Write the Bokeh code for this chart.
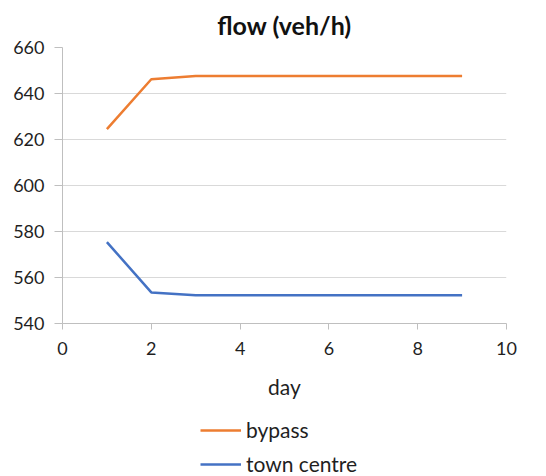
from bokeh.plotting import figure
from bokeh.layouts import column
from bokeh.models import Range1d, FixedTicker, Legend, LegendItem
from bokeh.embed import file_html
from bokeh.resources import INLINE

days = [1, 2, 3, 4, 5, 6, 7, 8, 9]
bypass = [624.5, 646.2, 647.6, 647.6, 647.6, 647.6, 647.6, 647.6, 647.6]
town_centre = [575.4, 553.5, 552.3, 552.3, 552.3, 552.3, 552.3, 552.3, 552.3]
series_names = ["bypass", "town centre"]
series_colors = ["#ED7D31", "#4472C4"]
x_ticks = [0, 2, 4, 6, 8, 10]
y_ticks = [540, 560, 580, 600, 620, 640, 660]

FONT = "Lato"
TXT = "#1f1f1f"

p = figure(output_backend="svg", toolbar_location=None,
           x_range=Range1d(0, 10), y_range=Range1d(540, 660),
           frame_width=444, frame_height=276,
           min_border_left=62, min_border_right=40, min_border_top=47,
           min_border_bottom=87)
p.title.text = "flow (veh/h)"
p.title.align = "center"
p.title.text_font = FONT
p.title.text_font_size = "25px"
p.title.text_font_style = "bold"
p.title.text_color = "#111111"
p.title.standoff = 15

p.outline_line_color = None
p.xgrid.grid_line_color = None
p.ygrid.grid_line_color = "#d9d9d9"
p.ygrid.grid_line_width = 1

for ax in (p.xaxis, p.yaxis):
    ax.axis_line_color = "#bfbfbf"
    ax.major_tick_line_color = "#bfbfbf"
    ax.minor_tick_line_color = None
    ax.major_tick_in = 0
    ax.major_label_text_font = FONT
    ax.major_label_text_font_size = "18px"
    ax.major_label_text_color = TXT
p.xaxis.major_tick_out = 6
p.yaxis.major_tick_out = 8
p.xaxis.ticker = FixedTicker(ticks=x_ticks)
p.yaxis.ticker = FixedTicker(ticks=y_ticks)
p.xaxis.axis_label = "day"
p.xaxis.axis_label_text_font = FONT
p.xaxis.axis_label_text_font_size = "21px"
p.xaxis.axis_label_text_font_style = "normal"
p.xaxis.axis_label_text_color = TXT
p.xaxis.axis_label_standoff = 16
p.xaxis.major_label_standoff = 12
p.yaxis.major_label_standoff = 10

series = [bypass, town_centre]
for ys, c in zip(series, series_colors):
    p.line(days, ys, line_color=c, line_width=2.5)

# legend strip under the chart: a small canvas whose range keeps the key
# lines out of view, so only the legend entries show
key = figure(width=546, height=66, output_backend="svg", toolbar_location=None,
             x_axis_type=None, y_axis_type=None,
             x_range=Range1d(0, 1), y_range=Range1d(0, 1),
             min_border=0, outline_line_color=None)
key.xgrid.visible = False
key.ygrid.visible = False
items = []
for name, ys, c in zip(series_names, series, series_colors):
    r = key.line(days, ys, line_color=c, line_width=2.5)
    items.append(LegendItem(label=name, renderers=[r]))
legend = Legend(items=items, orientation="vertical", location=(138, 0),
                label_text_font=FONT, label_text_font_size="21px",
                label_text_color=TXT, glyph_width=41, glyph_height=20,
                label_standoff=5, spacing=9, border_line_color=None,
                background_fill_alpha=0, margin=0, padding=0)
key.add_layout(legend, "center")

page = column(p, key, spacing=0)
open("out.html", "w").write(file_html(page, INLINE))
